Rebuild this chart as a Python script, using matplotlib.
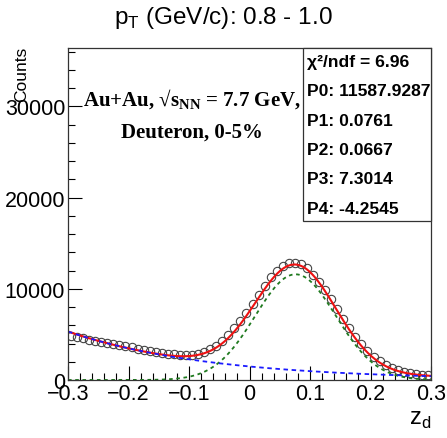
import numpy as np
import matplotlib
matplotlib.use("Agg")
import matplotlib.pyplot as plt
from matplotlib.ticker import MultipleLocator

plt.rcParams['font.family'] = ['Liberation Sans', 'DejaVu Sans']
plt.rcParams['mathtext.fontset'] = 'custom'
plt.rcParams['mathtext.rm'] = 'Liberation Sans'
plt.rcParams['mathtext.bf'] = 'Liberation Serif:bold'

# measured z_d histogram (bin centres, counts)
zd = np.round(np.arange(-0.295, 0.3, 0.01), 3)
counts = [4800, 4680, 4560, 4440, 4330, 4200, 4080, 3950, 3820, 3690,
          3570, 3440, 3330, 3210, 3100, 3000, 2900, 2830, 2760, 2740,
          2760, 2850, 3050, 3380, 3780, 4300, 4950, 5700, 6500, 7400,
          8350, 9350, 10300, 11250, 11950, 12450, 12800, 12850, 12700, 12250,
          11550, 10750, 9850, 8850, 7800, 6700, 5700, 4750, 3900, 3180,
          2550, 2050, 1650, 1320, 1080, 880, 740, 640, 560, 500]

# fit parameters shown in the stats box
chi2ndf = 6.96
P0, P1, P2, P3, P4 = 11587.9287, 0.0761, 0.0667, 7.3014, -4.2545

xf = np.linspace(-0.3, 0.3, 400)
sig = P0 * np.exp(-0.5 * ((xf - P1) / P2) ** 2)
bkg = np.exp(P3 + P4 * xf)

fig = plt.figure(figsize=(4.47, 4.39), dpi=100)
ax = fig.add_axes([68/447, 1-381/439, (431-68)/447, (381-49)/439])

ax.plot(zd, counts, 'o', ms=6, mfc='none', mec='#444444', mew=0.8)
ax.plot(xf, sig + bkg, color='#ee1111', lw=1.5)
ax.plot(xf, sig, color='#1f7a1f', lw=1.3, ls=(0, (2, 2)))
ax.plot(xf, bkg, color='#1a1aff', lw=1.3, ls=(0, (2.5, 2)))

ax.set_xlim(-0.3, 0.3)
ax.set_ylim(0, 36400)
ax.xaxis.set_major_locator(MultipleLocator(0.1))
ax.xaxis.set_minor_locator(MultipleLocator(0.02))
ax.yaxis.set_major_locator(MultipleLocator(10000))
ax.yaxis.set_minor_locator(MultipleLocator(2000))
ax.tick_params(which='both', direction='in', top=False, right=False,
               labelsize=15.5, width=0.8)
ax.tick_params(which='major', length=10, pad=2)
ax.tick_params(which='minor', length=5)
ax.xaxis.set_major_formatter(matplotlib.ticker.FuncFormatter(
    lambda v, p: '0' if abs(v) < 1e-9 else ('%.1f' % v).replace('-', '\u2212')))
for s in ax.spines.values():
    s.set_linewidth(0.9)
    s.set_color('#333333')

fig.text(0.5, 1-18/439, r'p$_{\mathrm{T}}$ (GeV/c): 0.8 - 1.0',
         ha='center', va='center', fontsize=17.5)
fig.text(22/447, 1-47/439, 'Counts', rotation=90, ha='center', va='top',
         fontsize=12.5)
fig.text(420/447, 1-420/439, r'z$_{\mathrm{d}}$', ha='center', va='center',
         fontsize=17)

# collision system annotation
ax.text(192/447, 1-100/439, r'Au+Au, √s$_{\mathbf{NN}}$ = 7.7 GeV,',
        transform=fig.transFigure, ha='center', va='center', fontsize=15,
        fontweight='bold', family=['Liberation Serif', 'DejaVu Serif'])
ax.text(192/447, 1-133/439, 'Deuteron, 0-5%',
        transform=fig.transFigure, ha='center', va='center', fontsize=15,
        fontweight='bold', family=['Liberation Serif', 'DejaVu Serif'])

# stats box
bx0, by0, bx1, by1 = 303/447, 1-222/439, 431/447, 1-49/439
fig.patches.append(plt.Rectangle((bx0, by0), bx1-bx0, by1-by0,
                                 transform=fig.transFigure, fc='white',
                                 ec='#333333', lw=0.9, zorder=5))
lines = ['χ²/ndf = %.2f' % chi2ndf,
         'P0: %.4f' % P0, 'P1: %.4f' % P1, 'P2: %.4f' % P2,
         'P3: %.4f' % P3, 'P4: %.4f' % P4]
for i, t in enumerate(lines):
    fig.text(307/447, 1-(62 + 29.5*i)/439, t, ha='left', va='center',
             fontsize=12.6, fontweight='bold', zorder=6)

fig.savefig('out.png', dpi=100)
